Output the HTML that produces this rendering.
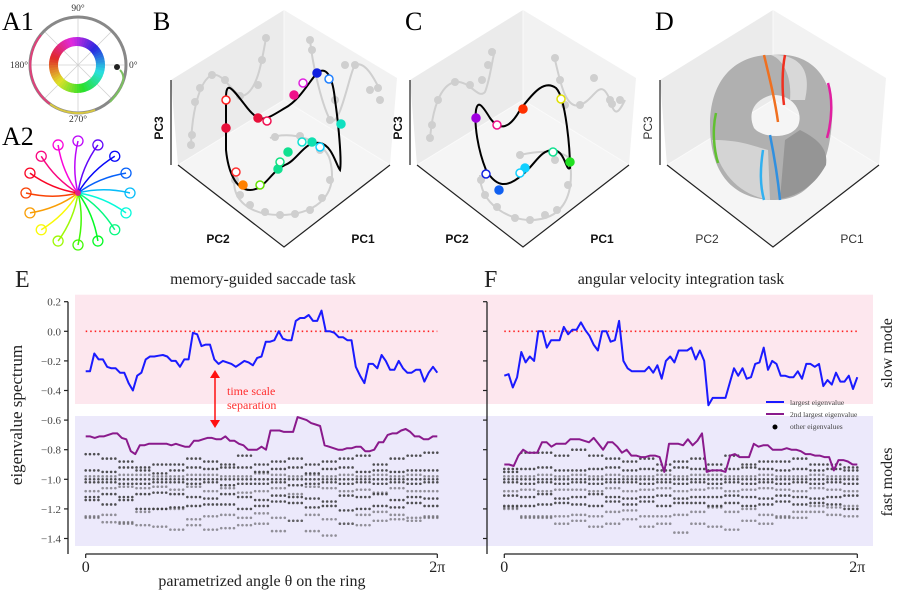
<!DOCTYPE html>
<html><head><meta charset="utf-8">
<style>
html,body{margin:0;padding:0;background:#fff;}
svg{display:block;font-family:"Liberation Serif",serif;}
.sans{font-family:"Liberation Sans",sans-serif;}
</style></head>
<body>
<svg id="fig" width="900" height="602" viewBox="0 0 900 602" xmlns="http://www.w3.org/2000/svg">
<!-- Panel A1 -->
<g>
<text x="2" y="30" font-size="26">A1</text>
<g stroke="#d0d0d0" stroke-width="0.8">
<line x1="30" y1="65" x2="127" y2="65"/><line x1="78" y1="17" x2="78" y2="113"/>
<line x1="44" y1="31" x2="112" y2="99"/><line x1="112" y1="31" x2="44" y2="99"/>
</g>
<circle cx="78" cy="65" r="48" fill="none" stroke="#888" stroke-width="3"/>
<path d="M 41 35 A 48 48 0 0 0 50 104" fill="none" stroke="#e0407a" stroke-width="2"/>
<path d="M 50 104 A 48 48 0 0 0 95 110" fill="none" stroke="#d8c840" stroke-width="2"/>
<path d="M 110 102 Q 130 80 120 70" fill="none" stroke="#7cc060" stroke-width="2"/>
<g id="colorRing"></g>
<circle cx="117" cy="67" r="3" fill="#222"/>
<g font-size="9.5" fill="#333">
<text x="78" y="11" text-anchor="middle">90°</text>
<text x="28" y="68" text-anchor="end">180°</text>
<text x="129" y="68" text-anchor="start">0°</text>
<text x="78" y="122" text-anchor="middle">270°</text>
</g>
</g>
<!-- Panel A2 -->
<g>
<text x="2" y="145" font-size="26">A2</text>
<g id="spokes"></g>
</g>
<g id="p3d"></g>
<g id="charts"></g>
</svg>
<script>
const NS="http://www.w3.org/2000/svg";
function mk(tag,attrs,parent){const e=document.createElementNS(NS,tag);for(const k in attrs)e.setAttribute(k,attrs[k]);if(parent)parent.appendChild(e);return e;}
// ---------- A1 color ring
const ringG=document.getElementById('colorRing');
for(let a=0;a<360;a+=6){
  const r1=19,r2=28,cx=77,cy=65;
  const t0=-a*Math.PI/180,t1=-(a+7)*Math.PI/180;
  const p=`M ${cx+r2*Math.cos(t0)} ${cy+r2*Math.sin(t0)} A ${r2} ${r2} 0 0 0 ${cx+r2*Math.cos(t1)} ${cy+r2*Math.sin(t1)} L ${cx+r1*Math.cos(t1)} ${cy+r1*Math.sin(t1)} A ${r1} ${r1} 0 0 1 ${cx+r1*Math.cos(t0)} ${cy+r1*Math.sin(t0)} Z`;
  const hue=(200+a)%360;
  const seg=mk('path',{d:p,fill:`hsl(${hue},75%,52%)`},ringG);
  
  
}
// ---------- A2 spokes
const spG=document.getElementById('spokes');
for(let i=0;i<16;i++){
  const ang=i*22.5, t=-ang*Math.PI/180, cx=78, cy=193, R=52;
  const ex=cx+R*Math.cos(t), ey=cy+R*Math.sin(t);
  const hue=(195+ang)%360, col=`hsl(${hue},95%,50%)`;
  const mx=cx+R*0.5*Math.cos(t-0.25), my=cy+R*0.5*Math.sin(t-0.25);
  const sp=mk('path',{d:`M ${cx} ${cy} Q ${mx} ${my} ${ex} ${ey}`,fill:'none',stroke:col,'stroke-width':1.5},spG);
  
  
  const c=mk('circle',{cx:ex,cy:ey,r:5,fill:'none',stroke:col,'stroke-width':1.3},spG);
  
  
}
mk('circle',{cx:78,cy:193,r:3,fill:'#e0208a'},spG);
// ---------- 3D boxes
const p3=document.getElementById('p3d');
function box(ox,label,lx,bold,panelName){
  const g=mk('g',{},p3);
  
  
  const T=[ox,10],LT=[ox-113,80],RT=[ox+113,78],C=[ox,100],LB=[ox-106,165],RB=[ox+106,165],B=[ox,247];
  mk('path',{d:`M ${LT} L ${T} L ${C} L ${LB} Z`,fill:'#ebebeb'},g);
  mk('path',{d:`M ${T} L ${RT} L ${RB} L ${C} Z`,fill:'#f2f2f2'},g);
  mk('path',{d:`M ${LB} L ${C} L ${RB} L ${B} Z`,fill:'#f5f5f5'},g);
  mk('path',{d:`M ${T} L ${C} M ${C} L ${LB} M ${C} L ${RB}`,stroke:'#fafafa','stroke-width':1},g);
  mk('path',{d:`M ${ox-113} 80 L ${ox-113} 165 M ${ox-106} 165 L ${B} L ${RB}`,stroke:'#222','stroke-width':1.2,fill:'none'},g);
  const t=mk('text',{x:lx,y:30,'font-size':26},g);t.textContent=label;
  
  const fw=bold?'bold':'normal', fc=bold?'#111':'#333';
  const l3=mk('text',{x:0,y:0,'font-size':12,'font-weight':fw,fill:fc,class:'sans',transform:`translate(${ox-121},128) rotate(-90)`,'text-anchor':'middle'},g);l3.textContent='PC3';
  
  const l2=mk('text',{x:ox-66,y:243,'font-size':12,'font-weight':fw,fill:fc,class:'sans','text-anchor':'middle'},g);l2.textContent='PC2';
  
  const l1=mk('text',{x:ox+79,y:243,'font-size':12,'font-weight':fw,fill:fc,class:'sans','text-anchor':'middle'},g);l1.textContent='PC1';
  
  return g;
}
function ghost(g,d,pts){
  mk('path',{d:d,fill:'none',stroke:'#cfcfcf','stroke-width':2},g);
  pts.forEach(p=>mk('circle',{cx:p[0],cy:p[1],r:4,fill:'#cfcfcf'},g));
}
// B
const gB=box(284,'B',153,true,'panel-b');
ghost(gB,'M 191 145 C 192 110 200 80 212 75 C 225 72 235 100 245 95 C 258 88 262 60 266 38',[[191,145],[192,135],[195,102],[200,88],[212,75],[225,80],[240,96],[258,85],[262,60],[266,38]]);
ghost(gB,'M 310 40 C 312 60 320 100 330 120 C 340 130 350 70 355 65 C 365 60 375 80 380 90',[[310,40],[312,50],[330,120],[335,100],[345,65],[355,65],[370,90],[378,88],[380,100]]);
ghost(gB,'M 235 175 C 230 200 250 215 280 215 C 310 215 340 200 330 160 C 325 140 290 130 270 138',[[235,180],[240,195],[250,205],[265,212],[280,215],[295,214],[310,210],[322,198],[330,180],[320,150],[300,136],[275,137]]);
mk('path',{d:'M 226 98 C 226 80 232 88 245 105 C 260 125 265 120 285 108 C 300 100 310 80 318 72 C 328 66 333 80 335 100 C 338 120 342 160 340 170 C 336 165 332 145 320 143 C 305 140 298 160 285 165 C 270 172 265 190 250 190 C 235 190 228 170 226 150 Z',fill:'none',stroke:'#000','stroke-width':2},gB);
[[226,128,'#e8103a',1],[258,118,'#e8103a',1],[294,95,'#f0108a',1],[317,73,'#1020e0',1],[341,124,'#10e0c0',1],[278,169,'#10e090',1],[288,152,'#10e090',1],[312,142,'#10e0b0',1],[243,185,'#ff8000',1],
 [226,100,'#ff2020',0],[267,121,'#f01050',0],[303,83,'#e020e0',0],[329,79,'#2080ff',0],[236,172,'#ff3030',0],[260,185,'#60e000',0],[280,162,'#10e080',0],[302,142,'#10e0d0',0],[320,147,'#10d0ff',0]
].forEach(p=>{const c=mk('circle',{cx:p[0],cy:p[1],r:4,fill:p[3]?p[2]:'#fff',stroke:p[2],'stroke-width':1.5},gB);});
// C
const gC=box(523,'C',405,true,'panel-c');
ghost(gC,'M 430 140 C 432 110 440 85 455 82 C 470 80 478 100 485 92 C 490 80 492 60 495 50',[[430,138],[432,125],[438,100],[455,82],[470,85],[482,80],[488,65],[492,52]]);
ghost(gC,'M 555 60 C 560 80 565 110 580 105 C 595 100 600 75 610 100 C 615 120 620 110 625 100',[[555,58],[560,80],[565,105],[580,105],[594,78],[610,100],[612,104],[620,100]]);
ghost(gC,'M 480 175 C 480 205 510 220 530 220 C 560 220 575 200 570 160 C 565 150 540 150 520 155',[[481,180],[485,195],[497,207],[515,218],[530,220],[545,215],[557,210],[568,185],[555,160],[520,155]]);
mk('path',{d:'M 476 110 C 478 100 482 105 490 118 C 500 132 510 128 520 110 C 535 90 545 80 556 88 C 566 98 570 150 570 168 C 566 172 565 150 553 150 C 540 150 535 165 522 175 C 505 190 495 185 486 170 C 478 150 474 125 476 110 Z',fill:'none',stroke:'#000','stroke-width':2},gC);
[[476,118,'#a000e0',1],[523,109,'#ff3000',1],[570,162,'#20e020',1],[499,190,'#1060f0',1],[525,168,'#10d0ff',1],
 [497,125,'#f0108a',0],[561,99,'#e0e000',0],[486,174,'#1020e0',0],[520,173,'#10d0ff',0],[553,152,'#10e090',0]
].forEach(p=>{const c=mk('circle',{cx:p[0],cy:p[1],r:4,fill:p[3]?p[2]:'#fff',stroke:p[2],'stroke-width':1.5},gC);});
// D
const gD=box(773,'D',655,false,'panel-d');
const tor=mk('g',{},gD);
mk('path',{d:'M 771 55 C 820 50 835 90 832 120 C 830 160 815 200 775 200 C 730 200 710 170 710 125 C 710 80 735 55 771 55 Z M 772 95 C 752 100 748 115 754 128 C 762 138 790 140 798 126 C 804 112 793 94 772 95 Z','fill-rule':'evenodd',fill:'#b0b0b0'},tor);
mk('path',{d:'M 771 55 C 800 54 812 70 805 100 L 790 100 C 792 80 785 60 771 55 Z',fill:'#d8d8d8'},tor);
mk('path',{d:'M 712 140 C 720 175 740 195 770 200 L 768 150 C 750 145 740 140 712 140 Z',fill:'#d4d4d4'},tor);
mk('path',{d:'M 800 130 C 820 140 828 150 826 165 C 815 185 800 195 780 199 L 785 140 Z',fill:'#959595'},tor);
[['M 764 55 C 770 80 775 100 778 122','#f07020'],['M 785 55 C 782 70 782 90 784 105','#f03020'],['M 828 83 C 833 100 832 120 827 138','#e020a0'],['M 716 113 C 712 130 714 150 718 163','#60c030'],['M 763 150 C 760 170 760 185 764 200','#30b0f0'],['M 770 135 C 775 160 778 180 780 200','#3090e0']].forEach(s=>{const p=mk('path',{d:s[0],fill:'none',stroke:s[1],'stroke-width':2.5},tor);});

// ---------- Bottom charts data
const E_largest=[-0.27,-0.27,-0.15,-0.19,-0.19,-0.24,-0.25,-0.25,-0.28,-0.28,-0.35,-0.40,-0.30,-0.28,-0.19,-0.17,-0.17,-0.165,-0.16,-0.17,-0.20,-0.20,-0.24,-0.19,-0.19,-0.01,-0.02,-0.10,-0.09,-0.09,-0.19,-0.22,-0.20,-0.21,-0.22,-0.24,-0.22,-0.20,-0.21,-0.23,-0.18,-0.17,-0.07,-0.07,-0.06,0.00,-0.05,-0.06,-0.06,0.07,0.09,0.09,0.11,0.07,0.07,0.14,0.00,0.00,-0.01,-0.04,-0.04,-0.06,-0.06,-0.24,-0.30,-0.35,-0.22,-0.22,-0.25,-0.16,-0.20,-0.26,-0.26,-0.20,-0.25,-0.28,-0.28,-0.26,-0.26,-0.34,-0.28,-0.24,-0.28];
const E_second=[-0.71,-0.71,-0.72,-0.71,-0.71,-0.70,-0.69,-0.69,-0.72,-0.73,-0.81,-0.83,-0.77,-0.77,-0.76,-0.76,-0.76,-0.76,-0.76,-0.77,-0.76,-0.77,-0.78,-0.78,-0.74,-0.74,-0.73,-0.72,-0.72,-0.73,-0.73,-0.71,-0.74,-0.74,-0.76,-0.77,-0.80,-0.80,-0.80,-0.78,-0.80,-0.67,-0.67,-0.67,-0.68,-0.68,-0.68,-0.58,-0.59,-0.60,-0.62,-0.63,-0.64,-0.77,-0.78,-0.79,-0.80,-0.80,-0.79,-0.79,-0.78,-0.78,-0.81,-0.81,-0.80,-0.75,-0.75,-0.70,-0.69,-0.69,-0.67,-0.66,-0.68,-0.71,-0.71,-0.73,-0.73,-0.71,-0.71];
const F_largest=[-0.30,-0.29,-0.38,-0.31,-0.14,-0.21,-0.17,-0.20,0.00,0.00,-0.11,-0.06,-0.06,-0.06,0.03,-0.02,0.01,0.01,0.06,0.01,-0.03,-0.09,-0.13,0.00,0.00,-0.07,-0.06,0.07,-0.20,-0.25,-0.27,-0.27,-0.27,-0.27,-0.24,-0.28,-0.23,-0.32,-0.20,-0.17,-0.21,-0.13,-0.13,-0.13,-0.11,-0.19,-0.13,-0.20,-0.50,-0.45,-0.45,-0.45,-0.45,-0.35,-0.25,-0.30,-0.25,-0.32,-0.31,-0.22,-0.21,-0.11,-0.26,-0.20,-0.22,-0.30,-0.30,-0.31,-0.31,-0.27,-0.32,-0.22,-0.22,-0.24,-0.22,-0.37,-0.33,-0.36,-0.28,-0.34,-0.34,-0.30,-0.39,-0.31];
const F_second=[-0.90,-0.90,-0.91,-0.84,-0.80,-0.82,-0.82,-0.82,-0.75,-0.75,-0.78,-0.76,-0.76,-0.76,-0.73,-0.73,-0.73,-0.74,-0.75,-0.72,-0.76,-0.80,-0.75,-0.75,-0.78,-0.82,-0.80,-0.84,-0.84,-0.85,-0.85,-0.84,-0.84,-0.85,-0.95,-0.76,-0.76,-0.76,-0.77,-0.73,-0.77,-0.74,-0.69,-0.95,-0.94,-0.94,-0.94,-0.95,-0.84,-0.83,-0.85,-0.85,-0.85,-0.76,-0.78,-0.77,-0.77,-0.80,-0.80,-0.80,-0.79,-0.80,-0.80,-0.81,-0.83,-0.83,-0.84,-0.84,-0.85,-0.85,-0.94,-0.87,-0.87,-0.88,-0.90,-0.90];
const E_tracks=[
[-0.83,-0.86,-0.88,-0.92,-0.90,-0.90,-0.86,-0.88,-0.90,-0.84,-0.90,-0.88,-0.86,-0.90,-0.88,-0.86,-0.84,-0.90,-0.86,-0.84,-0.82],
[-0.94,-0.95,-0.92,-0.94,-0.96,-0.94,-0.92,-0.93,-0.92,-0.92,-0.95,-0.93,-0.92,-0.96,-0.93,-0.92,-0.95,-0.94,-0.95,-0.94,-0.94],
[-0.98,-0.98,-0.97,-0.97,-0.98,-0.98,-0.97,-0.97,-0.98,-0.98,-0.96,-0.97,-0.98,-0.97,-0.98,-0.97,-0.98,-0.97,-0.98,-0.97,-0.98],
[-1.00,-1.00,-1.00,-1.00,-1.00,-1.00,-1.00,-1.00,-1.00,-1.00,-1.00,-1.00,-1.00,-1.00,-1.00,-1.00,-1.00,-1.00,-1.00,-1.00,-1.00],
[-1.02,-1.02,-1.03,-1.03,-1.02,-1.02,-1.03,-1.02,-1.04,-1.03,-1.03,-1.02,-1.04,-1.03,-1.02,-1.03,-1.02,-1.03,-1.02,-1.03,-1.02],
[-1.08,-1.06,-1.05,-1.06,-1.05,-1.07,-1.05,-1.08,-1.06,-1.09,-1.08,-1.06,-1.10,-1.05,-1.06,-1.08,-1.07,-1.09,-1.06,-1.08,-1.08],
[-1.12,-1.10,-1.12,-1.10,-1.09,-1.10,-1.12,-1.13,-1.10,-1.12,-1.14,-1.11,-1.12,-1.13,-1.15,-1.11,-1.12,-1.10,-1.14,-1.12,-1.13],
[-1.14,-1.17,-1.14,-1.20,-1.20,-1.19,-1.18,-1.17,-1.17,-1.20,-1.18,-1.15,-1.16,-1.19,-1.18,-1.21,-1.20,-1.18,-1.19,-1.16,-1.18],
[-1.25,-1.24,-1.29,-1.22,-1.20,-1.20,-1.27,-1.25,-1.24,-1.26,-1.23,-1.26,-1.28,-1.24,-1.27,-1.30,-1.24,-1.22,-1.24,-1.26,-1.25],
[-1.26,-1.29,-1.30,-1.31,-1.32,-1.34,-1.31,-1.34,-1.33,-1.31,-1.30,-1.35,-1.28,-1.35,-1.38,-1.30,-1.31,-1.28,-1.27,-1.28,-1.26]];
const F_tracks=[
[-0.93,-0.82,-0.82,-0.84,-0.80,-0.84,-0.86,-0.88,-0.86,-0.90,-0.88,-0.86,-0.90,-0.84,-0.90,-0.88,-0.88,-0.86,-0.90,-0.90,-0.92],
[-0.95,-0.93,-0.92,-0.94,-0.94,-0.93,-0.92,-0.94,-0.93,-0.94,-0.92,-0.93,-0.94,-0.93,-0.92,-0.93,-0.94,-0.93,-0.94,-0.93,-0.94],
[-0.98,-0.98,-0.97,-0.98,-0.97,-0.98,-0.97,-0.98,-0.98,-0.97,-0.98,-0.97,-0.97,-0.98,-0.98,-0.97,-0.98,-0.98,-0.97,-0.98,-0.98],
[-1.00,-1.00,-1.00,-1.00,-1.00,-1.00,-1.00,-1.00,-1.00,-1.00,-1.00,-1.00,-1.00,-1.00,-1.00,-1.00,-1.00,-1.00,-1.00,-1.00,-1.00],
[-1.02,-1.03,-1.02,-1.03,-1.02,-1.03,-1.02,-1.02,-1.03,-1.02,-1.03,-1.02,-1.03,-1.02,-1.03,-1.02,-1.03,-1.02,-1.03,-1.02,-1.03],
[-1.08,-1.07,-1.08,-1.07,-1.07,-1.08,-1.06,-1.08,-1.07,-1.06,-1.08,-1.07,-1.06,-1.08,-1.07,-1.06,-1.07,-1.08,-1.06,-1.07,-1.08],
[-1.11,-1.12,-1.10,-1.13,-1.12,-1.10,-1.12,-1.13,-1.12,-1.11,-1.13,-1.12,-1.12,-1.11,-1.12,-1.13,-1.11,-1.12,-1.13,-1.12,-1.11],
[-1.18,-1.18,-1.17,-1.16,-1.17,-1.18,-1.15,-1.17,-1.15,-1.18,-1.16,-1.16,-1.18,-1.16,-1.18,-1.17,-1.15,-1.17,-1.16,-1.17,-1.20],
[-1.20,-1.25,-1.25,-1.25,-1.24,-1.25,-1.22,-1.21,-1.25,-1.25,-1.24,-1.22,-1.19,-1.22,-1.20,-1.24,-1.25,-1.22,-1.18,-1.19,-1.18],
[-1.19,-1.26,-1.26,-1.30,-1.28,-1.32,-1.30,-1.27,-1.32,-1.30,-1.36,-1.30,-1.32,-1.34,-1.28,-1.30,-1.26,-1.26,-1.22,-1.24,-1.25]];
const yTicks=[0.2,0.0,-0.2,-0.4,-0.6,-0.8,-1.0,-1.2,-1.4];
const yTickLabels=["0.2","0.0","\u22120.2","\u22120.4","\u22120.6","\u22120.8","\u22121.0","\u22121.2","\u22121.4"];
const xTickLabels=["0","2\u03c0"];

const ch=document.getElementById('charts');
const Y=v=>331.3-(v)*148;
function chart(cfg){
  const g=mk('g',{},ch);
  
  
  const X=i=>cfg.x0+(cfg.x1-cfg.x0)*i/(cfg.n-1);
  const slow=mk('rect',{x:cfg.bandL,y:294.7,width:cfg.bandR-cfg.bandL,height:109.3,fill:'#fde7ee'},g);
  
  const fast=mk('rect',{x:cfg.bandL,y:416,width:cfg.bandR-cfg.bandL,height:130,fill:'#ece9fb'},g);
  
  mk('line',{x1:cfg.ax,y1:Y(0.2),x2:cfg.ax,y2:554,stroke:'#222','stroke-width':1.3},g);
  yTicks.forEach((t,i)=>{
    mk('line',{x1:cfg.ax-4,y1:Y(t),x2:cfg.ax,y2:Y(t),stroke:'#222','stroke-width':1.2},g);
    if(cfg.labels){const tx=mk('text',{x:cfg.ax-7,y:Y(t)+4,'font-size':11,fill:'#444','text-anchor':'end'},g);tx.textContent=yTickLabels[i];
      }
  });
  mk('line',{x1:cfg.x0,y1:554,x2:cfg.x1,y2:554,stroke:'#222','stroke-width':1.3},g);
  [cfg.x0,cfg.x1].forEach((xx,i)=>{mk('line',{x1:xx,y1:554,x2:xx,y2:558,stroke:'#222','stroke-width':1.2},g);
    const tx=mk('text',{x:xx,y:572,'font-size':16,'text-anchor':'middle',fill:'#222'},g);tx.textContent=xTickLabels[i];
    });
  const z=mk('line',{x1:cfg.x0,y1:Y(0),x2:cfg.x1,y2:Y(0),stroke:'#ff2020','stroke-width':1.6,'stroke-dasharray':'1.5 3'},g);
  
  const dg=mk('g',{fill:'#333'},g);
  
  cfg.tracks.forEach((tr,ti)=>{
    tr.forEach((v,j)=>{
      for(let k=0;k<4;k++){
        const idx=j*4+k; if(idx>=cfg.n) continue;
        mk('circle',{cx:X(idx),cy:Y(v),r:1.3,'fill-opacity':(ti%3===2||ti>7)?0.5:0.85},dg);
      }
    });
  });
  const lin=(arr,col,nm)=>{
    const Xa=i=>cfg.x0+(cfg.x1-cfg.x0)*i/(arr.length-1);
    const p=mk('path',{d:arr.map((v,i)=>(i?'L':'M')+Xa(i).toFixed(1)+' '+Y(v).toFixed(1)).join(' '),fill:'none',stroke:col,'stroke-width':2,'stroke-linejoin':'round'},g);
    
  };
  lin(cfg.second,'#8a1a8c','second-largest-eigenvalue-line');
  lin(cfg.largest,'#1a1aff','largest-eigenvalue-line');
  return g;
}
chart({name:'chart-e',x0:85.7,x1:437.3,n:84,bandL:75,bandR:460,ax:68,labels:true,largest:E_largest,second:E_second,tracks:E_tracks});
chart({name:'chart-f',x0:504.3,x1:857.3,n:84,bandL:450,bandR:873,ax:487,labels:false,largest:F_largest,second:F_second,tracks:F_tracks});
function txt(x,y,s,str,nm,extra){const t=mk('text',Object.assign({x:x,y:y,'font-size':s,fill:'#222'},extra||{}),ch);t.textContent=str;return t;}
txt(15,287,24,'E','panel-label-e');
txt(484,287,24,'F','panel-label-f');
txt(263,284,16,'memory-guided saccade task','title-e',{'text-anchor':'middle'});
txt(681,284,16,'angular velocity integration task','title-f',{'text-anchor':'middle'});
txt(262,586,16,'parametrized angle θ on the ring','x-axis-title',{'text-anchor':'middle'});
txt(0,0,17,'eigenvalue spectrum','y-axis-title',{'text-anchor':'middle',transform:'translate(22,415) rotate(-90)'});
txt(0,0,16,'slow mode','slow-mode-label',{'text-anchor':'middle',transform:'translate(892,353) rotate(-90)'});
txt(0,0,16,'fast modes','fast-mode-label',{'text-anchor':'middle',transform:'translate(892,482) rotate(-90)'});
txt(227,395,12,'time scale','annotation-line1',{fill:'#ff3030'});
txt(227,409,12,'separation','annotation-line2',{fill:'#ff3030'});
const ar=mk('g',{stroke:'#ff1010',fill:'#ff1010'},ch);

mk('line',{x1:215,y1:377,x2:215,y2:421,'stroke-width':1.5},ar);
mk('path',{d:'M 210 378 L 215 370 L 220 378 Z',stroke:'none'},ar);
mk('path',{d:'M 210 420 L 215 428 L 220 420 Z',stroke:'none'},ar);
const lg=mk('g',{},ch);
mk('line',{x1:766,y1:402,x2:784,y2:402,stroke:'#1a1aff','stroke-width':2},lg);
mk('line',{x1:766,y1:414,x2:784,y2:414,stroke:'#8a1a8c','stroke-width':2},lg);
mk('circle',{cx:775,cy:427,r:2.5,fill:'#000'},lg);
[['largest eigenvalue',405],['2nd largest eigenvalue',417],['other eigenvalues',429]].forEach(l=>{const t=mk('text',{x:790,y:l[1],'font-size':7.5,fill:'#444'},lg);t.textContent=l[0];});
</script>
</body></html>
